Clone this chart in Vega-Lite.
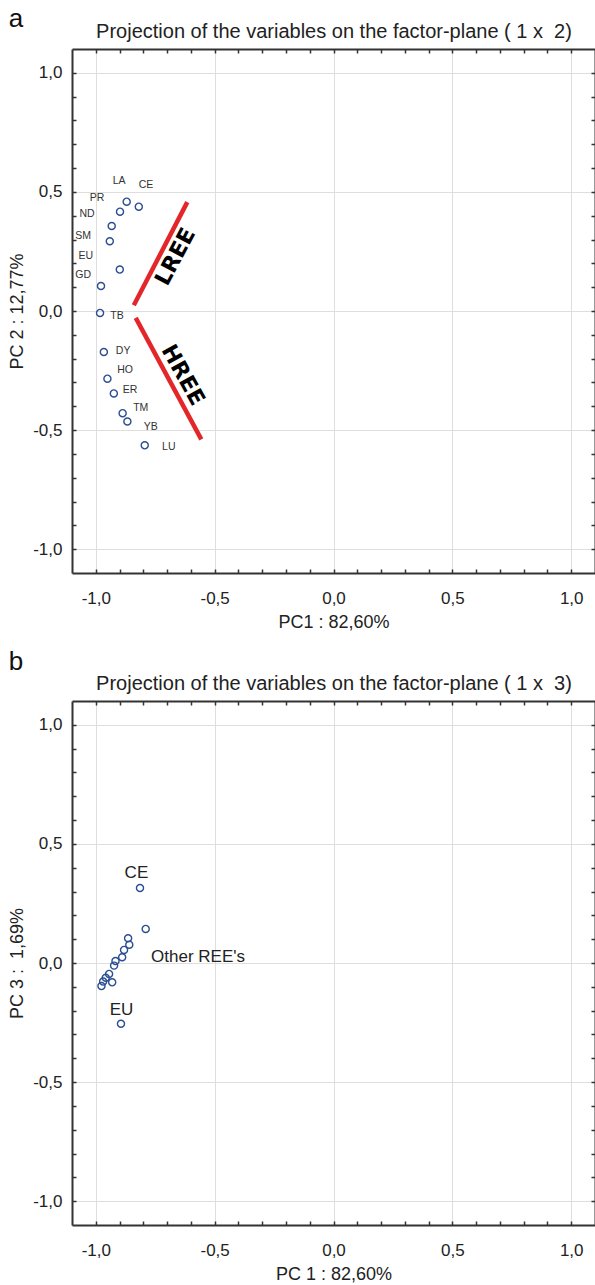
{
  "$schema": "https://vega.github.io/schema/vega-lite/v6.json",
  "padding": {"left": 8, "top": 6, "right": 0, "bottom": 0},
  "background": "white",
  "config": {
    "font": "Liberation Sans",
    "view": {"stroke": null},
    "locale": {"number": {"decimal": ",", "thousands": ".", "grouping": [3], "currency": ["", ""], "minus": "-"}},
    "axis": {
      "labelFont": "Liberation Sans", "titleFont": "Liberation Sans",
      "labelFontSize": 17, "titleFontSize": 18, "titleFontWeight": "normal",
      "labelColor": "#222", "titleColor": "#222",
      "domainColor": "#333", "domainWidth": 2,
      "tickColor": "#333", "tickWidth": 1.5,
      "gridColor": "#dedede", "gridWidth": 1
    },
    "title": {"font": "Liberation Sans", "color": "#111"}
  },
  "datasets": {
    "pc12": [
      {"element": "LA", "pc1": -0.870, "pc2": 0.459, "label_pc1": -0.902, "label_pc2": 0.547},
      {"element": "CE", "pc1": -0.819, "pc2": 0.438, "label_pc1": -0.789, "label_pc2": 0.531},
      {"element": "PR", "pc1": -0.898, "pc2": 0.417, "label_pc1": -0.995, "label_pc2": 0.476},
      {"element": "ND", "pc1": -0.933, "pc2": 0.357, "label_pc1": -1.037, "label_pc2": 0.408},
      {"element": "SM", "pc1": -0.941, "pc2": 0.293, "label_pc1": -1.053, "label_pc2": 0.314},
      {"element": "EU", "pc1": -0.899, "pc2": 0.174, "label_pc1": -1.042, "label_pc2": 0.231},
      {"element": "GD", "pc1": -0.978, "pc2": 0.105, "label_pc1": -1.053, "label_pc2": 0.151},
      {"element": "TB", "pc1": -0.982, "pc2": -0.008, "label_pc1": -0.911, "label_pc2": -0.020},
      {"element": "DY", "pc1": -0.966, "pc2": -0.172, "label_pc1": -0.885, "label_pc2": -0.168},
      {"element": "HO", "pc1": -0.951, "pc2": -0.284, "label_pc1": -0.877, "label_pc2": -0.248},
      {"element": "ER", "pc1": -0.924, "pc2": -0.346, "label_pc1": -0.856, "label_pc2": -0.332},
      {"element": "TM", "pc1": -0.887, "pc2": -0.429, "label_pc1": -0.811, "label_pc2": -0.406},
      {"element": "YB", "pc1": -0.867, "pc2": -0.464, "label_pc1": -0.769, "label_pc2": -0.486},
      {"element": "LU", "pc1": -0.794, "pc2": -0.564, "label_pc1": -0.693, "label_pc2": -0.573}
    ],
    "groups": [
      {"group": "LREE", "x1": -0.840, "y1": 0.024, "x2": -0.615, "y2": 0.457, "tx": -0.665, "ty": 0.228},
      {"group": "HREE", "x1": -0.832, "y1": -0.029, "x2": -0.556, "y2": -0.539, "tx": -0.633, "ty": -0.269}
    ],
    "pc13": [
      {"element": "CE", "pc1": -0.814, "pc3": 0.315},
      {"element": "LU", "pc1": -0.790, "pc3": 0.143},
      {"element": "LA", "pc1": -0.864, "pc3": 0.104},
      {"element": "YB", "pc1": -0.859, "pc3": 0.077},
      {"element": "TM", "pc1": -0.881, "pc3": 0.055},
      {"element": "PR", "pc1": -0.889, "pc3": 0.024},
      {"element": "ER", "pc1": -0.917, "pc3": 0.008},
      {"element": "ND", "pc1": -0.923, "pc3": -0.011},
      {"element": "HO", "pc1": -0.944, "pc3": -0.046},
      {"element": "DY", "pc1": -0.958, "pc3": -0.062},
      {"element": "SM", "pc1": -0.931, "pc3": -0.081},
      {"element": "GD", "pc1": -0.969, "pc3": -0.078},
      {"element": "TB", "pc1": -0.976, "pc3": -0.097},
      {"element": "EU", "pc1": -0.894, "pc3": -0.255}
    ],
    "pc13labels": [
      {"label": "CE", "pc1": -0.829, "pc3": 0.377},
      {"label": "Other REE's", "pc1": -0.570, "pc3": 0.026},
      {"label": "EU", "pc1": -0.892, "pc3": -0.197}
    ]
  },
  "spacing": 18,
  "vconcat": [
    {
      "title": {"text": "a", "anchor": "start", "frame": "bounds", "fontSize": 26, "fontWeight": "normal", "offset": -11},
      "width": 523,
      "height": 524,
      "resolve": {"axis": {"x": "independent", "y": "independent"}},
      "layer": [
        {
          "data": {"name": "pc12"},
          "mark": {"type": "point", "shape": "circle", "filled": false, "size": 50, "strokeWidth": 1.4, "color": "#2c4f93", "opacity": 1},
          "encoding": {
            "x": {"field": "pc1", "type": "quantitative", "scale": {"domain": [-1.1, 1.1], "nice": false, "zero": false},
              "axis": {"orient": "bottom", "values": [-1, -0.9, -0.8, -0.7, -0.6, -0.5, -0.4, -0.3, -0.2, -0.1, 0, 0.1, 0.2, 0.3, 0.4, 0.5, 0.6, 0.7, 0.8, 0.9, 1],
                "labelExpr": "abs(datum.value*2-round(datum.value*2))<0.01 ? format(datum.value, '.1f') : ''",
                "labelOverlap": false, "labelFlush": false,
                "grid": true, "gridOpacity": {"condition": {"test": "abs(datum.value*2-round(datum.value*2))<0.01", "value": 1}, "value": 0},
                "tickSize": -4, "labelPadding": 21, "title": "PC1 : 82,60%", "titlePadding": 7,
                "encode": {"ticks": {"update": {"y2": {"signal": "abs(datum.value*2-round(datum.value*2))<0.01 ? -6 : -3"}}}}}},
            "y": {"field": "pc2", "type": "quantitative", "scale": {"domain": [-1.1, 1.1], "nice": false, "zero": false},
              "axis": {"orient": "left", "values": [-1, -0.9, -0.8, -0.7, -0.6, -0.5, -0.4, -0.3, -0.2, -0.1, 0, 0.1, 0.2, 0.3, 0.4, 0.5, 0.6, 0.7, 0.8, 0.9, 1],
                "labelExpr": "abs(datum.value*2-round(datum.value*2))<0.01 ? format(datum.value, '.1f') : ''",
                "labelOverlap": false, "labelFlush": false,
                "grid": true, "gridOpacity": {"condition": {"test": "abs(datum.value*2-round(datum.value*2))<0.01", "value": 1}, "value": 0},
                "tickSize": -4, "labelPadding": 14, "title": "PC 2 : 12,77%", "titlePadding": 6,
                "encode": {"ticks": {"update": {"x2": {"signal": "abs(datum.value*2-round(datum.value*2))<0.01 ? 6 : 3"}}}}}}
          }
        },
        {
          "data": {"name": "pc12"},
          "mark": {"type": "text", "fontSize": 10.5, "color": "#333", "align": "center", "baseline": "middle"},
          "encoding": {
            "text": {"field": "element"},
            "x": {"field": "label_pc1", "type": "quantitative", "scale": {"domain": [-1.1, 1.1], "nice": false, "zero": false},
              "axis": {"orient": "top", "values": [-1, -0.9, -0.8, -0.7, -0.6, -0.5, -0.4, -0.3, -0.2, -0.1, 0, 0.1, 0.2, 0.3, 0.4, 0.5, 0.6, 0.7, 0.8, 0.9, 1],
                "labels": false, "grid": false, "tickSize": -4,
                "title": "Projection of the variables on the factor-plane ( 1 x\u00a0 2)", "titleFontSize": 20, "titlePadding": 7,
                "encode": {"ticks": {"update": {"y2": {"signal": "abs(datum.value*2-round(datum.value*2))<0.01 ? 6 : 3"}}}}}},
            "y": {"field": "label_pc2", "type": "quantitative", "scale": {"domain": [-1.1, 1.1], "nice": false, "zero": false},
              "axis": {"orient": "right", "values": [-1, -0.9, -0.8, -0.7, -0.6, -0.5, -0.4, -0.3, -0.2, -0.1, 0, 0.1, 0.2, 0.3, 0.4, 0.5, 0.6, 0.7, 0.8, 0.9, 1],
                "labels": false, "grid": false, "tickSize": -4, "title": null,
                "encode": {"ticks": {"update": {"x2": {"signal": "abs(datum.value*2-round(datum.value*2))<0.01 ? -6 : -3"}}}}}}
          }
        },
        {
          "data": {"name": "groups"},
          "mark": {"type": "rule", "color": "#e3262a", "strokeWidth": 4.5, "strokeCap": "butt"},
          "encoding": {
            "x": {"field": "x1", "type": "quantitative", "axis": null},
            "y": {"field": "y1", "type": "quantitative", "axis": null},
            "x2": {"field": "x2"},
            "y2": {"field": "y2"}
          }
        },
        {
          "data": {"name": "groups"},
          "transform": [{"filter": "datum.group === 'LREE'"}],
          "mark": {"type": "text", "font": "DejaVu Sans", "fontWeight": "bold", "fontSize": 22, "angle": 298, "align": "center", "baseline": "middle", "color": "#000"},
          "encoding": {
            "text": {"field": "group"},
            "x": {"field": "tx", "type": "quantitative", "axis": null},
            "y": {"field": "ty", "type": "quantitative", "axis": null}
          }
        },
        {
          "data": {"name": "groups"},
          "transform": [{"filter": "datum.group === 'HREE'"}],
          "mark": {"type": "text", "font": "DejaVu Sans", "fontWeight": "bold", "fontSize": 22, "angle": 61, "align": "center", "baseline": "middle", "color": "#000"},
          "encoding": {
            "text": {"field": "group"},
            "x": {"field": "tx", "type": "quantitative", "axis": null},
            "y": {"field": "ty", "type": "quantitative", "axis": null}
          }
        }
      ]
    },
    {
      "title": {"text": "b", "anchor": "start", "frame": "bounds", "fontSize": 26, "fontWeight": "normal", "offset": -2},
      "width": 523,
      "height": 524,
      "resolve": {"axis": {"x": "independent", "y": "independent"}},
      "layer": [
        {
          "data": {"name": "pc13"},
          "mark": {"type": "point", "shape": "circle", "filled": false, "size": 50, "strokeWidth": 1.4, "color": "#2c4f93", "opacity": 1},
          "encoding": {
            "x": {"field": "pc1", "type": "quantitative", "scale": {"domain": [-1.1, 1.1], "nice": false, "zero": false},
              "axis": {"orient": "bottom", "values": [-1, -0.9, -0.8, -0.7, -0.6, -0.5, -0.4, -0.3, -0.2, -0.1, 0, 0.1, 0.2, 0.3, 0.4, 0.5, 0.6, 0.7, 0.8, 0.9, 1],
                "labelExpr": "abs(datum.value*2-round(datum.value*2))<0.01 ? format(datum.value, '.1f') : ''",
                "labelOverlap": false, "labelFlush": false,
                "grid": true, "gridOpacity": {"condition": {"test": "abs(datum.value*2-round(datum.value*2))<0.01", "value": 1}, "value": 0},
                "tickSize": -4, "labelPadding": 21, "title": "PC 1 : 82,60%", "titlePadding": 7,
                "encode": {"ticks": {"update": {"y2": {"signal": "abs(datum.value*2-round(datum.value*2))<0.01 ? -6 : -3"}}}}}},
            "y": {"field": "pc3", "type": "quantitative", "scale": {"domain": [-1.1, 1.1], "nice": false, "zero": false},
              "axis": {"orient": "left", "values": [-1, -0.9, -0.8, -0.7, -0.6, -0.5, -0.4, -0.3, -0.2, -0.1, 0, 0.1, 0.2, 0.3, 0.4, 0.5, 0.6, 0.7, 0.8, 0.9, 1],
                "labelExpr": "abs(datum.value*2-round(datum.value*2))<0.01 ? format(datum.value, '.1f') : ''",
                "labelOverlap": false, "labelFlush": false,
                "grid": true, "gridOpacity": {"condition": {"test": "abs(datum.value*2-round(datum.value*2))<0.01", "value": 1}, "value": 0},
                "tickSize": -4, "labelPadding": 14, "title": "PC 3 :\u00a0 1,69%", "titlePadding": 6,
                "encode": {"ticks": {"update": {"x2": {"signal": "abs(datum.value*2-round(datum.value*2))<0.01 ? 6 : 3"}}}}}}
          }
        },
        {
          "data": {"name": "pc13labels"},
          "mark": {"type": "text", "fontSize": 17, "color": "#222", "align": "center", "baseline": "middle"},
          "encoding": {
            "text": {"field": "label"},
            "x": {"field": "pc1", "type": "quantitative", "scale": {"domain": [-1.1, 1.1], "nice": false, "zero": false},
              "axis": {"orient": "top", "values": [-1, -0.9, -0.8, -0.7, -0.6, -0.5, -0.4, -0.3, -0.2, -0.1, 0, 0.1, 0.2, 0.3, 0.4, 0.5, 0.6, 0.7, 0.8, 0.9, 1],
                "labels": false, "grid": false, "tickSize": -4,
                "title": "Projection of the variables on the factor-plane ( 1 x\u00a0 3)", "titleFontSize": 20, "titlePadding": 7,
                "encode": {"ticks": {"update": {"y2": {"signal": "abs(datum.value*2-round(datum.value*2))<0.01 ? 6 : 3"}}}}}},
            "y": {"field": "pc3", "type": "quantitative", "scale": {"domain": [-1.1, 1.1], "nice": false, "zero": false},
              "axis": {"orient": "right", "values": [-1, -0.9, -0.8, -0.7, -0.6, -0.5, -0.4, -0.3, -0.2, -0.1, 0, 0.1, 0.2, 0.3, 0.4, 0.5, 0.6, 0.7, 0.8, 0.9, 1],
                "labels": false, "grid": false, "tickSize": -4, "title": null,
                "encode": {"ticks": {"update": {"x2": {"signal": "abs(datum.value*2-round(datum.value*2))<0.01 ? -6 : -3"}}}}}}
          }
        }
      ]
    }
  ]
}
